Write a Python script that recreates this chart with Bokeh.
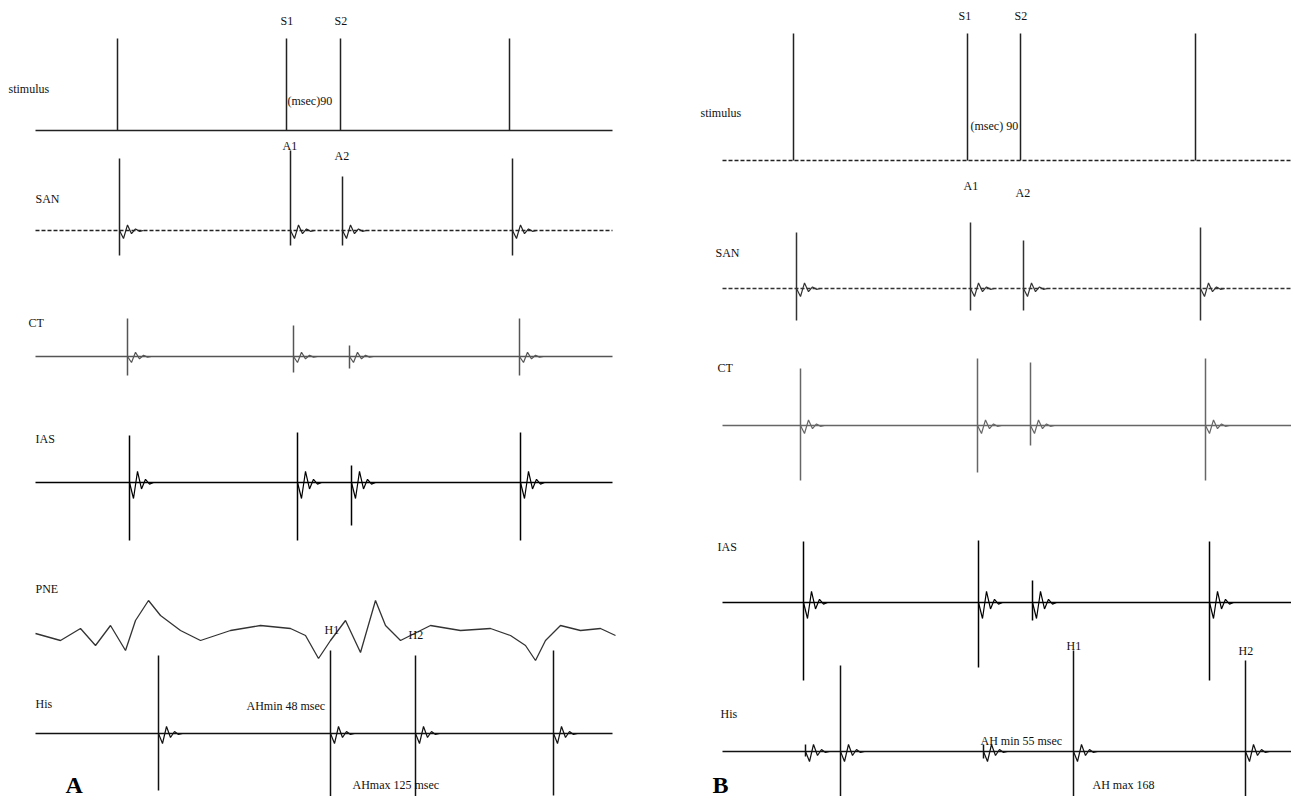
from bokeh.plotting import figure
from bokeh.models import Range1d
from bokeh.core.properties import value
from bokeh.embed import file_html
from bokeh.resources import INLINE

# ---- data (page pixel coordinates) ----
# each trace: baseline y, x extent, spike x, spike top, spike bottom
traces = {
    "A_stim": dict(y=130, x0=35, x1=612, sx=[117, 286, 340, 509], top=[38, 38, 38, 38], bot=[130, 130, 130, 130], color="#222222", dash="solid", ring=0),
    "A_san": dict(y=230, x0=35, x1=612, sx=[119, 290, 342, 512], top=[158, 150, 176, 158], bot=[255, 245, 245, 255], color="#222222", dash="4 2", ring=8),
    "A_ct": dict(y=356, x0=35, x1=612, sx=[127, 293, 349, 519], top=[318, 325, 345, 318], bot=[375, 372, 368, 375], color="#555555", dash="solid", ring=6),
    "A_ias": dict(y=482, x0=35, x1=612, sx=[129, 297, 351, 520], top=[435, 432, 465, 432], bot=[540, 540, 525, 540], color="#000000", dash="solid", ring=16),
    "A_his": dict(y=733, x0=35, x1=612, sx=[158, 330, 415, 553], top=[655, 650, 655, 650], bot=[790, 800, 800, 795], color="#111111", dash="solid", ring=10),
    "B_stim": dict(y=160, x0=722, x1=1305, sx=[793, 967, 1020, 1195], top=[33, 33, 33, 33], bot=[160, 160, 160, 160], color="#222222", dash="4 2", ring=0),
    "B_san": dict(y=288, x0=722, x1=1305, sx=[796, 970, 1023, 1200], top=[232, 222, 240, 227], bot=[320, 310, 310, 320], color="#333333", dash="4 2", ring=8),
    "B_ct": dict(y=425, x0=722, x1=1305, sx=[800, 977, 1030, 1205], top=[368, 358, 362, 358], bot=[480, 472, 445, 480], color="#666666", dash="solid", ring=8),
    "B_ias": dict(y=602, x0=722, x1=1305, sx=[803, 978, 1032, 1209], top=[541, 540, 580, 541], bot=[680, 667, 620, 680], color="#000000", dash="solid", ring=16),
    "B_his": dict(y=751, x0=722, x1=1305, sx=[805, 840, 983, 1073, 1245], top=[744, 665, 744, 650, 660], bot=[756, 808, 758, 810, 810], color="#111111", dash="solid", ring=10),
}

# damped ringing after a spike (offset x, relative amplitude)
ring_dx = [0, 4, 8, 12, 16, 20, 24]
ring_dy = [0, 1.0, -0.7, 0.4, -0.2, 0.1, 0]

pne_x = [35, 60, 80, 95, 110, 125, 135, 148, 160, 180, 200, 230, 260, 290, 305, 318, 330, 345, 360, 375, 385, 400, 430, 460, 490, 510, 525, 535, 545, 560, 580, 600, 615]
pne_y = [633, 640, 628, 645, 625, 650, 620, 600, 615, 630, 640, 630, 625, 628, 635, 658, 640, 620, 652, 600, 625, 640, 625, 630, 628, 635, 645, 660, 640, 625, 630, 628, 635]

labels = [
    ("S1", 280, 20), ("S2", 334, 20), ("stimulus", 8, 88), ("(msec)90", 287, 100),
    ("A1", 282, 145), ("A2", 334, 155), ("SAN", 35, 198), ("CT", 28, 322),
    ("IAS", 35, 438), ("PNE", 35, 588), ("H1", 324, 629), ("H2", 408, 634),
    ("His", 35, 703), ("AHmin 48 msec", 246, 705), ("AHmax 125  msec", 352, 784),
    ("S1", 958, 15), ("S2", 1014, 15), ("stimulus", 700, 112), ("(msec) 90", 970, 125),
    ("A1", 963, 185), ("A2", 1015, 192), ("SAN", 715, 252), ("CT", 717, 367),
    ("IAS", 717, 546), ("H1", 1066, 645), ("H2", 1238, 650), ("His", 720, 713),
    ("AH min 55 msec", 980, 740), ("AH max 168", 1092, 784),
]
panel_letters = [("A", 65, 784), ("B", 712, 784)]

p = figure(width=1291, height=796, x_range=Range1d(0, 1291), y_range=Range1d(796, 0),
           output_backend="svg", toolbar_location=None, min_border=0)
p.axis.visible = False
p.grid.visible = False
p.outline_line_color = None

for name, t in traces.items():
    p.line([t["x0"], t["x1"]], [t["y"], t["y"]], line_color=t["color"], line_width=1.5, line_dash=t["dash"])
    p.segment(x0=t["sx"], y0=t["top"], x1=t["sx"], y1=t["bot"], line_color=t["color"], line_width=1.5)
    if t["ring"]:
        for sx in t["sx"]:
            p.line([sx + dx for dx in ring_dx], [t["y"] + dy * t["ring"] for dy in ring_dy],
                   line_color=t["color"], line_width=1.2)

p.line(pne_x, pne_y, line_color="#333333", line_width=1.3)

p.text(x=[l[1] for l in labels], y=[l[2] for l in labels], text=[l[0] for l in labels],
       text_font=value("Liberation Serif"), text_font_size="12px", text_baseline="middle",
       text_color="#111111")
p.text(x=[l[1] for l in panel_letters], y=[l[2] for l in panel_letters], text=[l[0] for l in panel_letters],
       text_font=value("Liberation Serif"), text_font_size="24px", text_font_style="bold",
       text_baseline="middle", text_color="#000000")

open("out.html", "w").write(file_html(p, INLINE))
